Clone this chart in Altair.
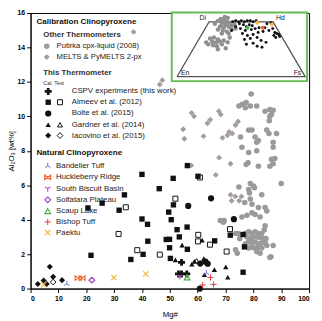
import altair as alt
import pandas as pd

# ---------------- main plot data (Mg#, Al2O3 wt%) ----------------
putirka_mg = [79.2, 74.8, 76.0, 77.4, 77.1, 78.9, 81.2, 84.2, 85.9, 87.1, 86.5, 85.9, 85.7, 84.8, 85.6, 88.3,
              78.3, 79.5, 80.6, 81.2, 81.8, 75.4, 75.9, 78.3, 81.2, 87.1, 87.1, 86.5, 87.7, 87.1, 85.9, 81.8,
              77.4, 78.1,
              74.8, 78.9, 80.0, 90.0, 78.3, 80.4, 78.6, 83.0, 78.9, 79.5, 76.9, 81.8, 84.2, 84.8, 75.9, 77.7,
              79.5, 80.6, 82.4, 69.5, 68.1, 84.2, 73.6, 74.5,
              77.1, 78.3, 79.5, 80.6, 81.8, 83.0, 77.7, 78.9, 80.0, 81.2, 82.4, 83.6, 78.3, 79.5, 80.6, 81.8,
              83.0, 84.2, 79.5, 80.6, 81.8, 83.0, 81.2, 82.4, 84.8, 87.1, 78.3, 77.1, 73.6, 74.2, 85.9, 75.1,
              84.5, 69.2, 83.9, 86.3]
putirka_al = [11.3, 10.6, 10.7, 10.8, 10.5, 10.6, 10.6, 10.3, 10.4, 10.35, 10.1, 10.0, 9.75, 9.2, 9.0, 9.0,
              9.2, 9.2, 8.8, 8.5, 8.6, 8.8, 8.2, 7.9, 8.0, 8.5, 8.2, 7.5, 7.55, 7.25, 7.1, 7.1,
              7.2, 7.3,
              5.9, 6.1, 5.95, 6.1, 5.75, 5.85, 5.55, 5.45, 5.2, 4.9, 5.0, 4.7, 4.7, 4.5, 4.15, 4.25,
              4.4, 4.3, 4.15, 3.95, 3.95, 3.65, 3.2, 3.2,
              3.2, 3.3, 3.2, 3.3, 3.2, 3.2, 3.0, 2.9, 3.0, 3.0, 2.95, 2.9, 2.7, 2.65, 2.7, 2.6,
              2.65, 2.7, 2.4, 2.35, 2.4, 2.35, 2.15, 2.05, 2.5, 2.5, 2.35, 2.6, 2.25, 2.05, 1.8, 2.9,
              2.9, 3.85, 3.4, 1.85]

melts_mg = [37.0, 46.4, 47.3, 57.8, 58.7, 63.5, 64.5, 54.8, 55.2, 62.1, 67.6, 68.3, 70.7, 71.3, 72.4, 68.9,
            73.6, 74.5, 67.7, 71.8, 66.5, 57.7, 71.8, 73.5, 74.9, 72.2, 75.7]
melts_al = [14.9, 11.85, 12.1, 10.2, 10.0, 9.6, 9.8, 9.25, 8.7, 8.85, 10.3, 10.1, 8.9, 9.1, 9.0, 8.75,
            9.5, 9.7, 7.6, 7.25, 6.6, 7.15, 5.45, 5.35, 5.1, 5.1, 5.35]

cspv_mg = [53.1, 54.2, 56.1, 54.2]
cspv_al = [0.85, 0.85, 0.85, 1.52]

almeev_cal_mg = [20.6, 21.7, 25.7, 31.8, 33.7, 40.0, 40.0, 42.0, 42.1, 36.0, 40.4, 46.2, 49.6, 50.5, 51.3,
                 52.6, 56.2, 48.7, 49.9, 53.4, 66.1, 56.3, 49.9, 50.2, 56.3, 51.2, 60.1, 71.7, 76.3, 76.8, 76.3]
almeev_cal_al = [4.68, 1.93, 4.96, 4.55, 5.44, 6.63, 4.04, 3.73, 2.75, 1.69, 1.99, 5.8, 4.44, 4.0, 4.86,
                 3.42, 3.57, 2.85, 2.86, 3.0, 2.77, 2.28, 2.37, 1.75, 7.14, 6.4, 6.52, 3.1, 3.14, 2.42, 0.95]
almeev_test_mg = [34.2, 31.6, 38.3, 46.4, 52.0, 60.8, 60.2, 60.1, 64.4, 71.6, 70.4]
almeev_test_al = [4.72, 3.17, 2.23, 1.97, 5.22, 6.45, 3.12, 2.74, 2.55, 3.45, 2.15]

bolte_mg = [56.6, 64.8, 73.0, 60.9, 62.8, 63.6, 60.8]
bolte_al = [4.8, 5.24, 4.03, 1.45, 1.56, 1.44, 0.0]

gardner_cal_mg = [61.6, 54.4, 52.0, 57.9, 58.8, 62.2, 61.0, 62.4, 66.0, 70.1, 70.8]
gardner_cal_al = [2.81, 2.52, 1.67, 1.42, 1.58, 1.74, 1.5, 0.8, 1.1, 1.26, 0.66]
gardner_test_mg = [59.6]
gardner_test_al = [1.62]

iacovino_cal_mg = [2.6, 4.7, 5.8, 6.9, 8.1, 11.3]
iacovino_cal_al = [0.27, 0.47, 0.27, 1.27, 0.68, 0.49]
iacovino_test_mg = [8.1]
iacovino_test_al = [0.38]

bandelier_mg, bandelier_al = [13.0, 63.1], [0.27, 0.9]
huckleberry_mg, huckleberry_al = [17.1, 18.5], [0.61, 0.61]
southbiscuit_mg, southbiscuit_al = [53.6], [0.7]
solfatara_mg, solfatara_al = [22.0], [0.49]
scaup_mg, scaup_al = [56.2], [0.65]
bishop_mg, bishop_al = [64.6, 61.8, 65.7], [0.65, 0.21, 0.24]
paektu_mg, paektu_al = [4.7, 29.9, 41.4], [0.23, 0.64, 0.85]

x_ticks = list(range(0, 101, 10))
y_ticks = list(range(0, 17, 2))

# ---------------- inset (pyroxene quadrilateral, Wo % and Fs %) ----------------
inset_grey_wo = [50.9, 52.7, 51.8, 50.0, 48.2, 47.3, 49.1, 45.5, 44.6, 45.5, 46.4, 42.9, 42.0, 41.1, 42.9,
                 47.3, 48.2, 54.5, 53.6, 43.8, 39.3, 39.3, 34.8, 35.7, 33.9, 32.1, 31.3, 32.1, 29.5, 28.6,
                 27.7, 29.5, 33.0, 25.9, 25.0, 31.3, 35.7, 31.3]
inset_grey_fs = [6.4, 7.8, 10.6, 13.8, 10.9, 14.4, 16.6, 10.7, 14.2, 17.6, 19.4, 10.5, 14.7, 18.3, 21.2,
                 21.3, 5.5, 10.0, 12.8, 23.8, 15.3, 20.6, 8.4, 11.0, 15.0, 11.3, 14.8, 17.4, 9.6, 13.8,
                 17.3, 20.3, 20.0, 25.1, 19.4, 7.1, 23.3, 23.9]
inset_black_wo = [50.0, 50.9, 50.0, 50.9, 50.0, 50.9, 50.9, 50.0, 50.9, 48.2, 47.3, 45.5, 47.3, 46.4, 45.5,
                  43.8, 42.0, 42.9, 43.8, 44.6, 39.3, 37.5, 38.4, 40.2, 41.1, 33.9, 34.8, 35.7, 33.0, 30.4,
                  27.7, 29.5, 44.6, 48.2, 42.0, 49.1, 43.8, 40.2, 39.3, 37.5, 38.4, 35.7, 36.6, 31.3, 26.8,
                  42.0]
inset_black_fs = [18.4, 20.3, 23.0, 24.8, 27.6, 29.4, 31.7, 34.4, 36.3, 24.6, 28.2, 31.4, 32.8, 35.5, 23.0,
                  27.6, 32.3, 36.5, 39.1, 41.7, 31.4, 36.2, 40.2, 43.2, 46.6, 35.7, 39.8, 44.7, 49.1, 44.2,
                  48.7, 39.4, 46.3, 46.1, 50.7, 48.7, 52.8, 56.2, 58.2, 56.8, 60.1, 59.2, 61.8, 53.8, 52.9,
                  21.6]
inset_col_wo = [44.6, 47.6, 49.1, 44.6]
inset_col_fs = [44.6, 50.2, 38.0, 32.6]
inset_col_c = ["#f0622e", "#f5b94a", "#f5b94a", "#4cae4c"]

quad_wo = [0, 50, 50, 0, 0]
quad_fs = [0, 0, 50, 100, 0]
quad_names = ["En", "Di", "Hd", "Fs"]

# ---------------- legend texts ----------------
head1 = ["Calibration Clinopyroxene", "Natural Clinopyroxene"]
head2 = ["Other Thermometers", "This Thermometer"]
other_labels = ["Putirka cpx-liquid (2008)", "MELTS & PyMELTS 2-px"]
this_labels = ["CSPV experiments (this work)", "Almeev et al. (2012)", "Bolte et al. (2015)",
               "Gardner et al. (2014)", "Iacovino et al. (2015)"]
natural_labels = ["Bandelier Tuff", "Huckleberry Ridge", "South Biscuit Basin", "Solfatara Plateau",
                  "Scaup Lake", "Bishop Tuff", "Paektu"]

# ---------------- layout / styles ----------------
W, H = 284, 281
OX, OY = 31, 10   # plot origin on the page
FONT = "Liberation Sans"
GREY_C = "#9a9a9a"
GREY_D = "#a59d9d"
BLACK = "#111111"

TRI_UP = "M0,0L0,-1M0,0L-0.87,0.5M0,0L0.87,0.5"
TRI_DOWN = "M0,0L0,1M0,0L-0.87,-0.5M0,0L0.87,-0.5"
BOWTIE = "M-1,-0.75L1,0.75L1,-0.75L-1,0.75Z"
PLUS_THIN = "M-1,0L1,0M0,-1L0,1"
XMARK = "M-1,-1L1,1M-1,1L1,-1"

# styles: (shape, size, color, filled, strokeWidth)
ST = {
    "putirka": ("circle", 32, GREY_C, True, 1),
    "melts": ("diamond", 36, GREY_D, True, 1),
    "cspv": ("cross", 50, BLACK, True, 1),
    "alm_c": ("square", 30, BLACK, True, 1),
    "alm_t": ("square", 26, BLACK, False, 1),
    "bolte": ("circle", 40, BLACK, True, 1),
    "gar_c": ("triangle-up", 30, BLACK, True, 1),
    "gar_t": ("triangle-up", 26, BLACK, False, 1),
    "iac_c": ("diamond", 38, BLACK, True, 1),
    "iac_t": ("diamond", 34, BLACK, False, 1),
    "bandelier": (TRI_UP, 40, "#6f72d6", False, 1),
    "huckleberry": (BOWTIE, 36, "#f0622e", False, 1.2),
    "southbiscuit": (TRI_DOWN, 40, "#c94ec9", False, 1.2),
    "solfatara": ("diamond", 34, "#9b3fc4", False, 1.2),
    "scaup": ("triangle-up", 34, "#4cae4c", False, 1.2),
    "bishop": (PLUS_THIN, 40, "#e5393a", False, 1),
    "paektu": (XMARK, 30, "#f5b94a", False, 1.2),
}

X = alt.X("mg:Q", scale=alt.Scale(domain=[0, 100], nice=False, zero=False),
          axis=alt.Axis(values=x_ticks, title="Mg#", titlePadding=9, grid=False))
Y = alt.Y("al:Q", scale=alt.Scale(domain=[0, 16], nice=False, zero=False),
          axis=alt.Axis(values=y_ticks, title="Al₂O₃ [wt%]", titlePadding=2, grid=False))


def main_pts(mg, al, key):
    shape, size, color, filled, sw = ST[key]
    df = pd.DataFrame({"mg": mg, "al": al})
    return alt.Chart(df).mark_point(shape=shape, size=size, color=color, filled=filled,
                                    strokeWidth=sw, opacity=1).encode(x=X, y=Y)


main = alt.layer(
    main_pts(putirka_mg, putirka_al, "putirka"),
    main_pts(melts_mg, melts_al, "melts"),
    main_pts(almeev_cal_mg, almeev_cal_al, "alm_c"),
    main_pts(almeev_test_mg, almeev_test_al, "alm_t"),
    main_pts(gardner_cal_mg, gardner_cal_al, "gar_c"),
    main_pts(gardner_test_mg, gardner_test_al, "gar_t"),
    main_pts(bolte_mg, bolte_al, "bolte"),
    main_pts(iacovino_cal_mg, iacovino_cal_al, "iac_c"),
    main_pts(iacovino_test_mg, iacovino_test_al, "iac_t"),
    main_pts(cspv_mg, cspv_al, "cspv"),
    main_pts(bandelier_mg, bandelier_al, "bandelier"),
    main_pts(huckleberry_mg, huckleberry_al, "huckleberry"),
    main_pts(southbiscuit_mg, southbiscuit_al, "southbiscuit"),
    main_pts(solfatara_mg, solfatara_al, "solfatara"),
    main_pts(scaup_mg, scaup_al, "scaup"),
    main_pts(bishop_mg, bishop_al, "bishop"),
    main_pts(paektu_mg, paektu_al, "paektu"),
)

# ---------------- inset ----------------
EN_PX, FS_PX = 180.3 - OX, 311.0 - OX
BASE_PY, TOP_PY = 75.0 - OY, 19.0 - OY
SQ3 = 0.8660254
bx = FS_PX - EN_PX
by = (BASE_PY - TOP_PY) / (0.5 * SQ3)
ix_dom = [-EN_PX / bx, (W - EN_PX) / bx]
iy_dom = [-(H - BASE_PY) / by, BASE_PY / by]
IX = alt.X("u:Q", scale=alt.Scale(domain=ix_dom, nice=False, zero=False), axis=None)
IY = alt.Y("v:Q", scale=alt.Scale(domain=iy_dom, nice=False, zero=False), axis=None)


def tern(df):
    return df.assign(u=(df["fs"] + df["wo"] / 2) / 100.0, v=df["wo"] / 100.0 * SQ3)


box_px = (175 - OX, 313 - OX, 9.5 - OY, 79.5 - OY)
box = pd.DataFrame({
    "u": [(box_px[0] - EN_PX) / bx], "u2": [(box_px[1] - EN_PX) / bx],
    "v": [(BASE_PY - box_px[2]) / by], "v2": [(BASE_PY - box_px[3]) / by],
})
box_layer = alt.Chart(box).mark_rect(fill="white", stroke="#63be52", strokeWidth=2).encode(
    x=IX, x2="u2:Q", y=IY, y2="v2:Q")

quad = tern(pd.DataFrame({"wo": quad_wo, "fs": quad_fs, "i": list(range(len(quad_wo)))}))
quad_layer = alt.Chart(quad).mark_line(color="#555555", strokeWidth=1.3).encode(
    x=IX, y=IY, order="i:O")

corner = quad.iloc[:4].assign(name=quad_names)
lab_style = {"En": ("left", 4), "Di": ("right", -3), "Hd": ("left", 3), "Fs": ("right", -4)}
corner_layers = []
for nm in quad_names:
    al_, dx_ = lab_style[nm]
    corner_layers.append(
        alt.Chart(corner[corner["name"] == nm]).mark_text(
            align=al_, baseline="bottom", dx=dx_, dy=-1,
            fontSize=7, font=FONT, color="#222").encode(x=IX, y=IY, text="name:N"))

grey_df = tern(pd.DataFrame({"wo": inset_grey_wo, "fs": inset_grey_fs}))
black_df = tern(pd.DataFrame({"wo": inset_black_wo, "fs": inset_black_fs}))
col_df = tern(pd.DataFrame({"wo": inset_col_wo, "fs": inset_col_fs})).assign(c=inset_col_c)

inset = alt.layer(
    box_layer, quad_layer, *corner_layers,
    alt.Chart(grey_df).mark_circle(size=20, color="#8f8f8f", opacity=1).encode(x=IX, y=IY),
    alt.Chart(black_df).mark_circle(size=9, color=BLACK, opacity=1).encode(x=IX, y=IY),
    alt.Chart(col_df).mark_circle(size=16, opacity=1).encode(
        x=IX, y=IY, color=alt.Color("c:N", scale=None)),
)

# ---------------- legend ----------------
PX = alt.X("px:Q", scale=None, axis=None)
PY = alt.Y("py:Q", scale=None, axis=None)


def ltext(labels, xs, ys, size=8, weight="normal", color="#1a1a1a"):
    df = pd.DataFrame({"t": labels, "px": [x - OX for x in xs], "py": [y - OY for y in ys]})
    return alt.Chart(df).mark_text(align="left", baseline="middle", fontSize=size, fontWeight=weight,
                                   font=FONT, color=color).encode(x=PX, y=PY, text="t:N")


def lpt(x, y, key):
    shape, size, color, filled, sw = ST[key]
    df = pd.DataFrame({"px": [x - OX], "py": [y - OY]})
    return alt.Chart(df).mark_point(shape=shape, size=size, color=color, filled=filled,
                                    strokeWidth=sw, opacity=1).encode(x=PX, y=PY)


head1_y = [19, 153]
head2_y = [32, 71]
other_y = [44, 55]
this_y = [90, 101, 112.5, 124, 135]
natural_y = [166, 177.5, 189, 200.5, 212, 223, 234]
natural_keys = ["bandelier", "huckleberry", "southbiscuit", "solfatara", "scaup", "bishop", "paektu"]

legend_layers = [
    ltext(head1, [37, 37], head1_y, size=8.2, weight="bold", color="#111"),
    ltext(head2, [44, 44], head2_y, size=8, weight="bold", color="#333"),
    ltext(other_labels, [57.5, 57.5], other_y, size=7.8),
    ltext(["Cal.  Test"], [44], [81], size=5.5, color="#333"),
    ltext(this_labels, [73] * 5, this_y),
    ltext(natural_labels, [57] * 7, natural_y),
    lpt(47.5, other_y[0], "putirka"),
    lpt(47.5, other_y[1], "melts"),
    lpt(49, this_y[0], "cspv"),
    lpt(49, this_y[1], "alm_c"), lpt(61, this_y[1], "alm_t"),
    lpt(49, this_y[2], "bolte"),
    lpt(49, this_y[3], "gar_c"), lpt(61, this_y[3], "gar_t"),
    lpt(49, this_y[4], "iac_c"), lpt(61, this_y[4], "iac_t"),
]
for k, yy in zip(natural_keys, natural_y):
    legend_layers.append(lpt(48.5, yy, k))
legend = alt.layer(*legend_layers)

chart = alt.layer(main, inset, legend).resolve_scale(x="independent", y="independent").properties(
    width=W, height=H,
    autosize=alt.AutoSizeParams(type="none"),
    padding={"left": 23, "top": 2, "right": 5, "bottom": 31},
).configure_view(stroke="#000000", strokeWidth=1).configure_axis(
    domainColor="#000000", tickColor="#000000", labelColor="#000000", titleColor="#000000",
    labelFont=FONT, labelFontWeight="bold", labelFontSize=7, tickSize=4, labelPadding=2,
    titleFont=FONT, titleFontSize=8, titleFontWeight="normal", domainWidth=1,
)

chart.save("out.html", embed_options={"renderer": "svg", "actions": False})
